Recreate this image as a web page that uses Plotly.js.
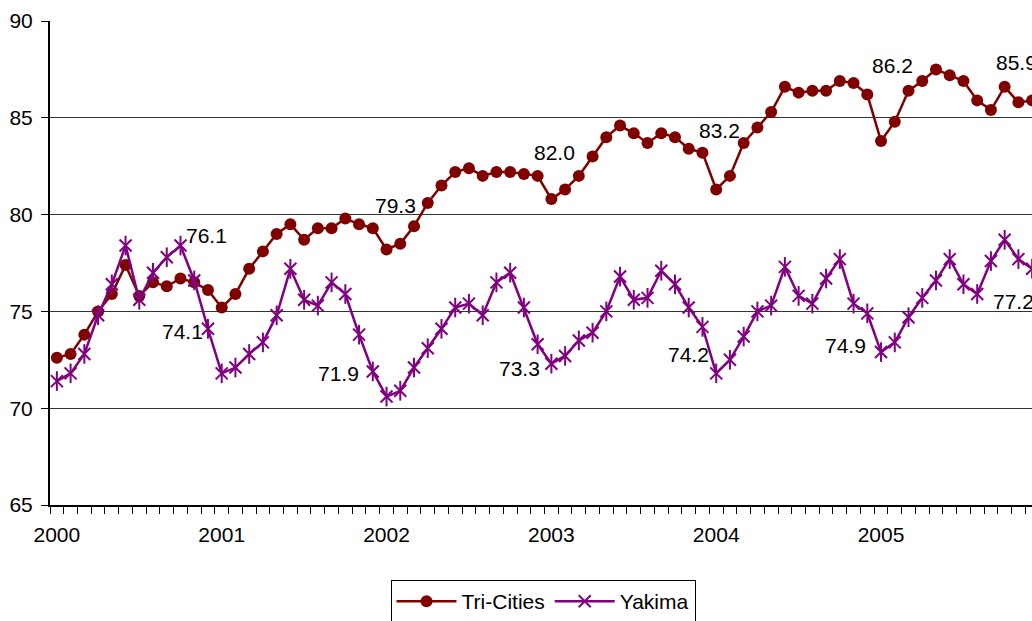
<!DOCTYPE html>
<html>
<head>
<meta charset="utf-8">
<script src="https://cdn.plot.ly/plotly-3.0.1.min.js"></script>
<style>
html,body{margin:0;padding:0;overflow:hidden;background:#fff;width:1032px;height:621px;}
#chart{width:1082px;height:650px;}
</style>
</head>
<body>
<div id="chart"></div>
<script>
// Year tick labels (first month of each year)
var years = ['2000','2001','2002','2003','2004','2005'];
// Monthly values, Jan 2000 - Dec 2005
var triCities = [
  72.6,72.8,73.8,75.0,75.9,77.4,75.8,76.5,76.3,76.7,76.5,76.1,
  75.2,75.9,77.2,78.1,79.0,79.5,78.7,79.3,79.3,79.8,79.5,79.3,
  78.2,78.5,79.4,80.6,81.5,82.2,82.4,82.0,82.2,82.2,82.1,82.0,
  80.8,81.3,82.0,83.0,84.0,84.6,84.2,83.7,84.2,84.0,83.4,83.2,
  81.3,82.0,83.7,84.5,85.3,86.6,86.3,86.4,86.4,86.9,86.8,86.2,
  83.8,84.8,86.4,86.9,87.5,87.2,86.9,85.9,85.4,86.6,85.8,85.9
];
var yakima = [
  71.4,71.8,72.8,74.8,76.4,78.4,75.6,77.0,77.8,78.4,76.6,74.1,
  71.8,72.1,72.8,73.4,74.8,77.2,75.6,75.3,76.5,75.9,73.8,71.9,
  70.6,70.9,72.1,73.1,74.1,75.2,75.4,74.8,76.5,77.0,75.2,73.3,
  72.3,72.7,73.5,73.9,75.0,76.8,75.6,75.7,77.1,76.4,75.2,74.2,
  71.8,72.5,73.7,75.0,75.3,77.3,75.8,75.4,76.7,77.7,75.4,74.9,
  72.9,73.4,74.7,75.7,76.6,77.7,76.4,75.9,77.6,78.7,77.7,77.2
];
// December of each year carries a data label
var labelIdx = [11,23,35,47,59,71];

// label offsets (px) -- styling only
var tcShift = [[-1,55],[23,23],[17,23],[17,22],[25,29],[-16,38]];
var ykShift = [[-25,-3],[-34,-2],[-18,-24],[-14,-28],[-22,-32],[-19,-33]];

var xIdx = triCities.map(function(_, i){ return i; });
var tickVals = years.map(function(_, i){ return i * 12; });

var red = '#800000', purple = '#800080';
var fontFam = 'Liberation Sans, Arial, sans-serif';

var traces = [
  {x: xIdx, y: triCities, name: 'Tri-Cities', type: 'scatter', mode: 'lines+markers',
   line: {color: red, width: 2.5},
   marker: {symbol: 'circle', size: 12, color: red}, cliponaxis: false},
  {x: xIdx, y: yakima, name: 'Yakima', type: 'scatter', mode: 'lines+markers',
   line: {color: purple, width: 2.5},
   marker: {symbol: 'x-thin-open', size: 12, color: purple, line: {color: purple, width: 2}}, cliponaxis: false},
  {x: xIdx, y: yakima, name: 'Yakima', type: 'scatter', mode: 'markers', showlegend: false,
   marker: {symbol: 'line-ns-open', size: 14, color: purple, line: {color: purple, width: 2}}, cliponaxis: false, hoverinfo: 'skip'}
];

var annotations = [];
labelIdx.forEach(function(idx, k){
  annotations.push({x: idx, y: triCities[idx], xref: 'x', yref: 'y', text: triCities[idx].toFixed(1),
    showarrow: false, xanchor: 'center', yanchor: 'middle', xshift: tcShift[k][0], yshift: tcShift[k][1],
    font: {family: fontFam, size: 21, color: '#000'}});
  annotations.push({x: idx, y: yakima[idx], xref: 'x', yref: 'y', text: yakima[idx].toFixed(1),
    showarrow: false, xanchor: 'center', yanchor: 'middle', xshift: ykShift[k][0], yshift: ykShift[k][1],
    font: {family: fontFam, size: 21, color: '#000'}});
});

var layout = {
  width: 1082, height: 650,
  margin: {l: 50, r: 43, t: 21, b: 145, pad: 0},
  paper_bgcolor: '#fff', plot_bgcolor: '#fff',
  font: {family: fontFam, size: 21, color: '#000'},
  showlegend: true,
  legend: {orientation: 'h', x: 0.4985, xanchor: 'center', y: -0.155, yanchor: 'top',
    bordercolor: '#000', borderwidth: 1, font: {family: fontFam, size: 21, color: '#000'},
    itemwidth: 60, tracegroupgap: 0},
  xaxis: {range: [-0.5, 71.5], tickmode: 'array', tickvals: tickVals, ticktext: years,
    ticks: '', showgrid: false, zeroline: false, showline: true, linecolor: '#000', linewidth: 2,
    tickfont: {family: fontFam, size: 21, color: '#000'}, ticklabelstandoff: 10,
    minor: {tickmode: 'linear', tick0: -0.5, dtick: 1, ticks: 'outside', ticklen: 7, tickcolor: '#000', tickwidth: 1, showgrid: false},
    fixedrange: true},
  yaxis: {range: [65, 90], tickmode: 'linear', tick0: 65, dtick: 5, ticks: 'outside', ticklen: 7,
    tickcolor: '#000', tickwidth: 1, showgrid: true, gridcolor: '#333', gridwidth: 1,
    zeroline: false, showline: true, linecolor: '#000', linewidth: 2,
    tickfont: {family: fontFam, size: 21, color: '#000'}, ticklabelstandoff: 4, fixedrange: true},
  annotations: annotations
};

Plotly.newPlot('chart', traces, layout, {displayModeBar: false, staticPlot: true});
</script>
</body>
</html>
